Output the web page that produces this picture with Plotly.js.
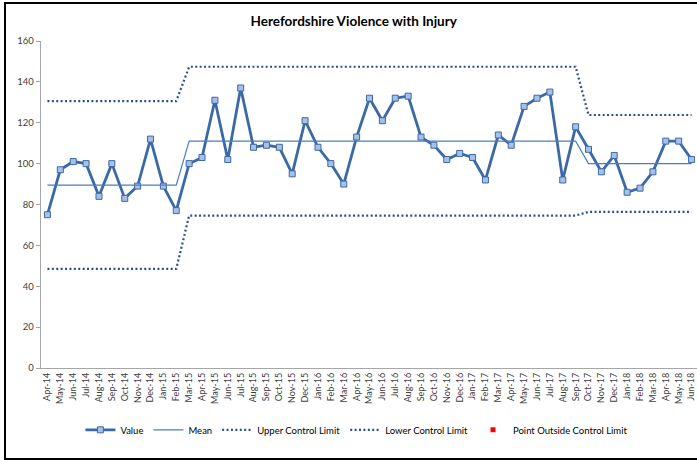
<!DOCTYPE html>
<html>
<head>
<meta charset="utf-8">
<script src="https://cdn.plot.ly/plotly-3.0.1.min.js"></script>
<style>
  body { margin: 0; background: #fff; overflow: hidden; }
  #frame { position: absolute; left: 4px; top: 2px; width: 714px; height: 454px;
           border: 2px solid #000; }
  #chart { width: 714px; height: 454px; }
</style>
</head>
<body>
<div id="frame"><div id="chart"></div></div>
<script>
//
// Herefordshire Violence with Injury - SPC chart (value, mean and
// control limits by month).
//

const months = ['Apr-14', 'May-14', 'Jun-14', 'Jul-14', 'Aug-14', 'Sep-14',
                'Oct-14', 'Nov-14', 'Dec-14', 'Jan-15', 'Feb-15', 'Mar-15',
                'Apr-15', 'May-15', 'Jun-15', 'Jul-15', 'Aug-15', 'Sep-15',
                'Oct-15', 'Nov-15', 'Dec-15', 'Jan-16', 'Feb-16', 'Mar-16',
                'Apr-16', 'May-16', 'Jun-16', 'Jul-16', 'Aug-16', 'Sep-16',
                'Oct-16', 'Nov-16', 'Dec-16', 'Jan-17', 'Feb-17', 'Mar-17',
                'Apr-17', 'May-17', 'Jun-17', 'Jul-17', 'Aug-17', 'Sep-17',
                'Oct-17', 'Nov-17', 'Dec-17', 'Jan-18', 'Feb-18', 'Mar-18',
                'Apr-18', 'May-18', 'Jun-18'];

const values = [75, 97, 101, 100, 84, 100, 83, 89, 112, 89, 77, 100,
                103, 131, 102, 137, 108, 109, 108, 95, 121, 108, 100, 90,
                113, 132, 121, 132, 133, 113, 109, 102, 105, 103, 92, 114,
                109, 128, 132, 135, 92, 118, 107, 96, 104, 86, 88, 96,
                111, 111, 102];

// mean and limits change at Mar-15 and Oct-17
const meanVals = [89.5, 89.5, 89.5, 89.5, 89.5, 89.5, 89.5, 89.5, 89.5, 89.5, 89.5,
                  111, 111, 111, 111, 111, 111, 111, 111, 111, 111, 111, 111, 111,
                  111, 111, 111, 111, 111, 111, 111, 111, 111, 111, 111, 111, 111,
                  111, 111, 111, 111, 111,
                  100, 100, 100, 100, 100, 100, 100, 100, 100];

const uclVals = [130.6, 130.6, 130.6, 130.6, 130.6, 130.6, 130.6, 130.6, 130.6, 130.6, 130.6,
                 147.4, 147.4, 147.4, 147.4, 147.4, 147.4, 147.4, 147.4, 147.4, 147.4,
                 147.4, 147.4, 147.4, 147.4, 147.4, 147.4, 147.4, 147.4, 147.4, 147.4,
                 147.4, 147.4, 147.4, 147.4, 147.4, 147.4, 147.4, 147.4, 147.4, 147.4,
                 147.4,
                 123.8, 123.8, 123.8, 123.8, 123.8, 123.8, 123.8, 123.8, 123.8];

const lclVals = [48.5, 48.5, 48.5, 48.5, 48.5, 48.5, 48.5, 48.5, 48.5, 48.5, 48.5,
                 74.6, 74.6, 74.6, 74.6, 74.6, 74.6, 74.6, 74.6, 74.6, 74.6,
                 74.6, 74.6, 74.6, 74.6, 74.6, 74.6, 74.6, 74.6, 74.6, 74.6,
                 74.6, 74.6, 74.6, 74.6, 74.6, 74.6, 74.6, 74.6, 74.6, 74.6,
                 74.6,
                 76.4, 76.4, 76.4, 76.4, 76.4, 76.4, 76.4, 76.4, 76.4];

// no points fall outside the limits, the series only shows in the legend
const outsideVals = months.map(() => null);

const fontFam = 'Lato, "Liberation Sans", sans-serif';
const limitColour = '#2c4f8c';

const limitLine = function(ys, name) {
    return {x: months, y: ys, name: name, type: 'scatter', mode: 'lines',
            line: {color: limitColour, width: 2.2, dash: '2px,2.4px'},
            hoverinfo: 'skip'};
};

const data = [
    {x: months, y: values, name: 'Value', type: 'scatter', mode: 'lines+markers',
     line: {color: '#3b69a6', width: 2.8},
     marker: {symbol: 'square', size: 6, color: '#a7c0e6',
              line: {color: '#3b69a6', width: 1}},
     cliponaxis: true},
    {x: months, y: meanVals, name: 'Mean', type: 'scatter', mode: 'lines',
     line: {color: '#4a7ebb', width: 1.2}},
    limitLine(uclVals, 'Upper Control Limit'),
    limitLine(lclVals, 'Lower Control Limit'),
    {x: months, y: outsideVals, name: 'Point Outside Control Limit',
     type: 'scatter', mode: 'markers',
     marker: {symbol: 'square', size: 5, color: '#ff0000'}}
];

const layout = {
    width: 714, height: 454,
    margin: {l: 35, r: 22, t: 37, b: 90},
    paper_bgcolor: '#ffffff', plot_bgcolor: '#ffffff',
    font: {family: fontFam, color: '#404040', size: 10},
    showlegend: true,
    title: {text: 'Herefordshire Violence with Injury',
            font: {family: fontFam, size: 13.5, color: '#000', weight: 'bold'},
            xref: 'container', yref: 'container',
            x: 0.487, y: 0.961, xanchor: 'center', yanchor: 'middle'},
    xaxis: {type: 'category', range: [-0.5, 50.5],
            tickangle: -90, tickfont: {size: 9, color: '#404040'},
            showgrid: false, zeroline: false,
            showline: true, linecolor: '#a6a6a6', linewidth: 1.3,
            ticks: '', fixedrange: true},
    yaxis: {range: [0, 160], dtick: 20, tickfont: {size: 9.5, color: '#404040'},
            showgrid: false, zeroline: false,
            showline: true, linecolor: '#a6a6a6', linewidth: 1.3,
            ticks: 'outside', ticklen: 4, tickcolor: '#a6a6a6', tickwidth: 1,
            fixedrange: true},
    legend: {orientation: 'h', x: 0.06, xanchor: 'left', y: -0.189, yanchor: 'middle',
             font: {family: fontFam, size: 9.5, color: '#000'},
             itemwidth: 30, traceorder: 'normal'}
};

Plotly.newPlot(document.querySelector('#chart'), data, layout,
               {displayModeBar: false, staticPlot: true});
</script>
</body>
</html>
